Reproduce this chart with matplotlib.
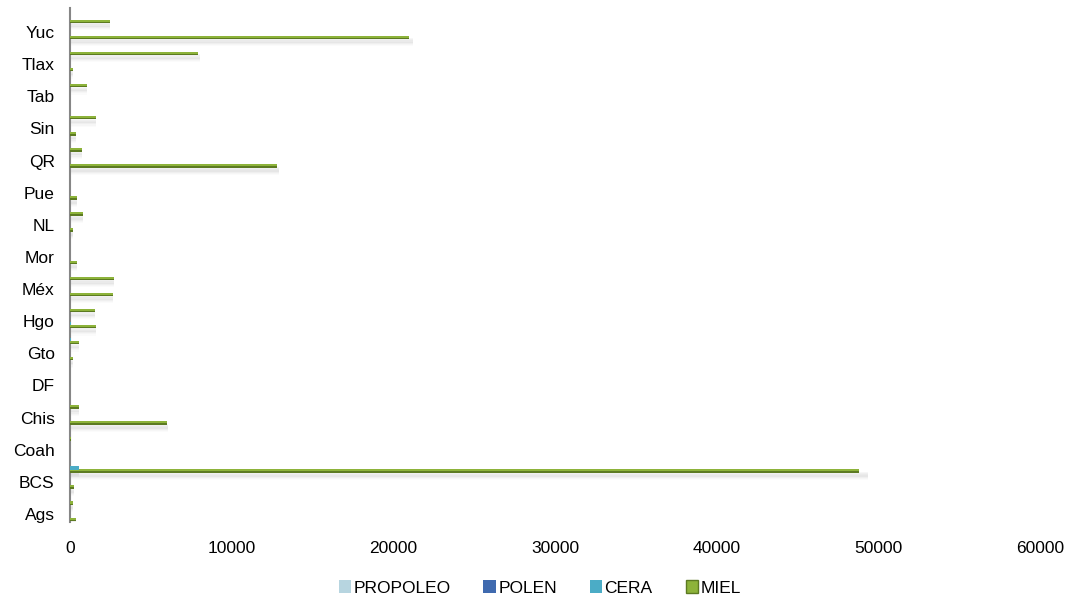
import numpy as np
import matplotlib
matplotlib.use('Agg')
import matplotlib.pyplot as plt
from matplotlib.patches import Patch

# States (alphabetical), only every other one gets a label
estados = ['Ags', 'BC', 'BCS', 'Camp', 'Coah', 'Col', 'Chis', 'Chih',
           'DF', 'Dgo', 'Gto', 'Gro', 'Hgo', 'Jal', 'Méx', 'Mich',
           'Mor', 'Nay', 'NL', 'Oax', 'Pue', 'Qro', 'QR', 'SLP',
           'Sin', 'Son', 'Tab', 'Tamps', 'Tlax', 'Ver', 'Yuc', 'Zac']

miel = [350, 200, 250, 48780, 0, 40, 6020, 540,
        0, 30, 165, 540, 1610, 1550, 2640, 2700,
        450, 30, 165, 825, 415, 0, 12790, 760,
        370, 1610, 0, 1050, 190, 7920, 20980, 2475]
cera = [20, 10, 10, 575, 0, 0, 30, 10,
        0, 0, 30, 40, 40, 20, 20, 10,
        0, 0, 0, 10, 0, 0, 20, 0,
        0, 10, 0, 0, 0, 20, 30, 10]
polen = [0] * 32
propoleo = [0] * 32

series = [('MIEL', miel, '#8DB33A', -0.33),
          ('CERA', cera, '#4BACC6', -0.13),
          ('POLEN', polen, '#3F6AAF', 0.07),
          ('PROPOLEO', propoleo, '#B7D5E0', 0.27)]

plt.rcParams['font.family'] = ['Liberation Sans', 'DejaVu Sans']
fig = plt.figure(figsize=(10.75, 6.01), dpi=100)
ax = fig.add_axes([0.0651, 1 - 522 / 601, 0.9023, 514 / 601])

y = np.arange(len(estados))
h = 0.22
for name, vals, color, off in series:
    vals = np.array(vals, dtype=float)
    # soft shadow under each bar
    for k, a in enumerate([0.07, 0.05, 0.04, 0.03]):
        ax.barh(y + off - 0.2 - 0.07 * k, vals * 1.012, height=0.3, left=0,
                color='#808080', alpha=a, linewidth=0, zorder=1)
    ax.barh(y + off, vals, height=h, color=color, edgecolor='none', zorder=3)
    if name == 'MIEL':
        ax.barh(y + off - h * 0.3, vals, height=h * 0.4, color='#5C7A22',
                edgecolor='none', zorder=4)

ax.set_xlim(0, 60000)
ax.set_ylim(-0.5, len(estados) - 0.5)
ax.set_xticks(np.arange(0, 60001, 10000))
ax.set_xticklabels([str(v) for v in range(0, 60001, 10000)], fontsize=12.5)
ax.set_yticks(y[::2])
ax.set_yticklabels(estados[::2], fontsize=12.5)
ax.tick_params(axis='both', length=0)
ax.tick_params(axis='y', pad=11)
ax.tick_params(axis='x', pad=14)
for s in ['top', 'right', 'bottom']:
    ax.spines[s].set_visible(False)
ax.spines['left'].set_color('#868686')
ax.spines['left'].set_linewidth(1.5)

handles = [Patch(facecolor='#B7D5E0', label='PROPOLEO'),
           Patch(facecolor='#3F6AAF', label='POLEN'),
           Patch(facecolor='#4BACC6', label='CERA'),
           Patch(facecolor='#8DB33A', edgecolor='#5C7A22', label='MIEL')]
fig.legend(handles=handles, loc='center', bbox_to_anchor=(0.502, 1 - 588 / 601),
           ncol=4, frameon=False, fontsize=12.5, handlelength=0.7, handleheight=0.7,
           handletextpad=0.15, columnspacing=1.9)

fig.savefig('out.png', dpi=100)
